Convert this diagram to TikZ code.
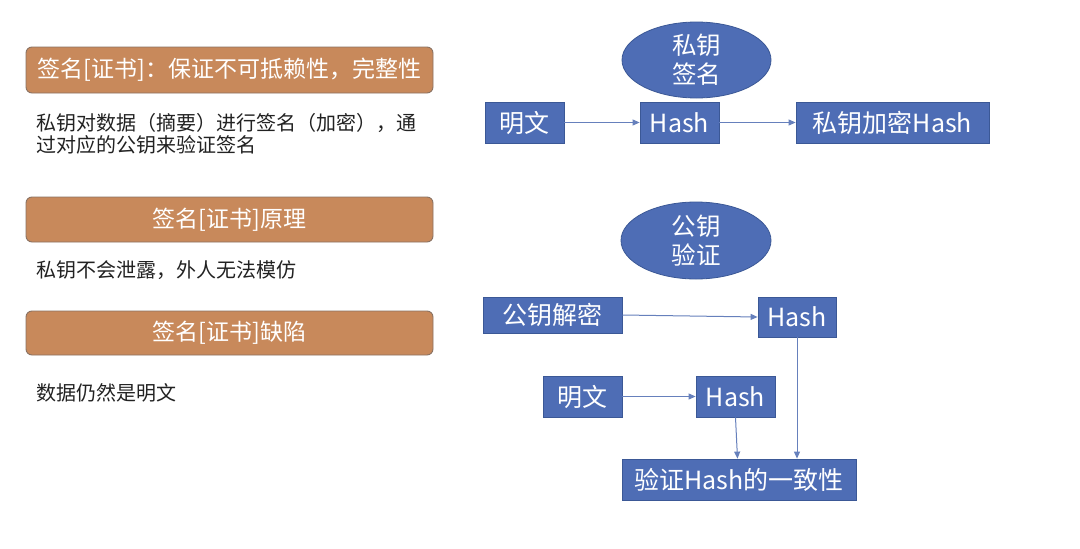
\documentclass[tikz,border=0pt]{standalone}
\usepackage{fontspec}
\setmainfont{Noto Sans CJK SC}
\usetikzlibrary{arrows.meta,shapes.geometric}
\definecolor{boxblue}{HTML}{4E6DB5}
\definecolor{boxedge}{HTML}{3B5896}
\definecolor{arrowc}{HTML}{6680BC}
\definecolor{banner}{HTML}{C8895B}
\definecolor{banneredge}{HTML}{8A7262}
\definecolor{bodytext}{HTML}{222222}
\begin{document}
\begin{tikzpicture}[x=1pt,y=-1pt,
  bannerbox/.style={draw=banneredge,line width=0.9pt,fill=banner,rounded corners=6pt,
    text=white,inner sep=0pt,font=\fontsize{23}{26}\selectfont},
  bodytxt/.style={text=bodytext,inner sep=0pt,anchor=west,align=left,
    font=\fontsize{20}{22.5}\selectfont},
  bluebox/.style={draw=boxedge,line width=0.8pt,fill=boxblue,text=white,inner sep=0pt,
    font=\fontsize{25}{27}\selectfont},
  blueell/.style={ellipse,draw=boxedge,line width=0.8pt,fill=boxblue,text=white,inner sep=0pt,
    align=center,font=\fontsize{24.5}{29}\selectfont},
  arr/.style={draw=arrowc,line width=1pt,-{Triangle[length=7pt,width=6pt]}}]
\useasboundingbox (0,0) rectangle (1080,549);
\fill[white] (0,0) rectangle (1080,549);

% left column
\node[bannerbox,minimum width=407pt,minimum height=46pt] (b1) at (229.5,70) {签名[证书]：保证不可抵赖性，完整性};
\node[bodytxt] (t1) at (36,134) {私钥对数据（摘要）进行签名（加密），通\\过对应的公钥来验证签名};
\node[bannerbox,minimum width=407pt,minimum height=45pt] (b2) at (229.5,219.5) {签名[证书]原理};
\node[bodytxt] (t2) at (36,270) {私钥不会泄露，外人无法模仿};
\node[bannerbox,minimum width=407pt,minimum height=44pt] (b3) at (229.5,333) {签名[证书]缺陷};
\node[bodytxt] (t3) at (36,393) {数据仍然是明文};

% top diagram
\node[blueell,minimum width=149pt,minimum height=76pt] (sk) at (696.5,60) {私钥\\签名};
\node[bluebox,minimum width=79pt,minimum height=41pt] (m1) at (524.5,122.5) {明文};
\node[bluebox,minimum width=79pt,minimum height=41pt] (h1) at (679.5,122.5) {Hash};
\node[bluebox,minimum width=193pt,minimum height=41pt] (enc) at (892.5,122.5) {私钥加密Hash};
\draw[arr] (m1.east) -- (h1.west);
\draw[arr] (h1.east) -- (enc.west);

% bottom diagram
\node[blueell,minimum width=150pt,minimum height=77pt] (pk) at (696,240.5) {公钥\\验证};
\node[bluebox,minimum width=139pt,minimum height=36pt] (dec) at (552.5,315) {公钥解密};
\node[bluebox,minimum width=78pt,minimum height=40pt] (h2) at (797,317) {Hash};
\node[bluebox,minimum width=79pt,minimum height=41pt] (m2) at (582.5,396.5) {明文};
\node[bluebox,minimum width=79pt,minimum height=41pt] (h3) at (735.5,396.5) {Hash};
\node[bluebox,minimum width=234pt,minimum height=41pt] (ver) at (739,479.5) {验证Hash的一致性};
\draw[arr] (dec.east) -- (h2.west);
\draw[arr] (m2.east) -- (h3.west);
\draw[arr] (h3.south) -- ([xshift=-1.5pt]ver.north);
\draw[arr] (h2.south) -- (h2.south |- ver.north);
\end{tikzpicture}
\end{document}
